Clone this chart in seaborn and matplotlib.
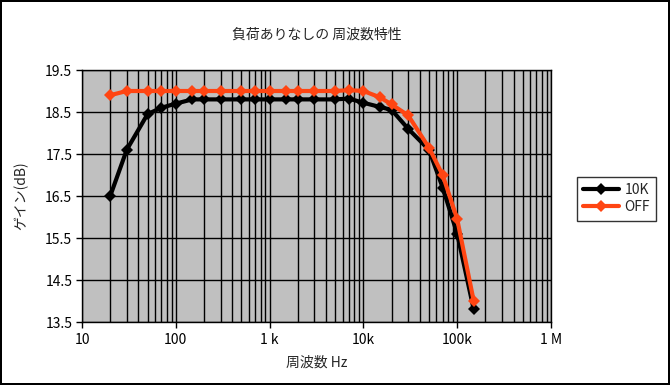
import pandas as pd
import matplotlib.pyplot as plt
import matplotlib.ticker as mticker
import seaborn as sns

# Data
freq = [20, 30, 50, 70, 100, 150, 200, 300, 500, 700, 1000, 1500, 2000, 3000,
        5000, 7000, 10000, 15000, 20000, 30000, 50000, 70000, 100000, 150000]
gain_10k = [16.5, 17.6, 18.45, 18.6, 18.7, 18.8, 18.8, 18.8, 18.8, 18.8, 18.8, 18.8, 18.8, 18.8,
            18.8, 18.82, 18.72, 18.62, 18.55, 18.1, 17.6, 16.7, 15.6, 13.8]
gain_off = [18.9, 19.0, 19.0, 19.0, 19.0, 19.0, 19.0, 19.0, 19.0, 19.0, 19.0, 19.0, 19.0, 19.0,
            19.0, 19.02, 19.0, 18.85, 18.68, 18.42, 17.65, 17.0, 15.95, 14.0]
series = ['10K', 'OFF']
colors = {'10K': '#000000', 'OFF': '#FF4512'}
y_ticks = [13.5, 14.5, 15.5, 16.5, 17.5, 18.5, 19.5]
x_ticks = [10, 100, 1000, 10000, 100000, 1000000]
x_labels = ['10', '100', '1 k', '10k', '100k', '1 M']

df = pd.concat([
    pd.DataFrame({'freq': freq, 'gain': gain_10k, 'series': '10K'}),
    pd.DataFrame({'freq': freq, 'gain': gain_off, 'series': 'OFF'}),
])

sns.set_style('white')
plt.rcParams['font.family'] = ['Noto Sans CJK JP', 'DejaVu Sans']

fig = plt.figure(figsize=(6.7, 3.85), dpi=100, edgecolor='black', linewidth=1.5)
ax = fig.add_axes([82 / 670, 1 - 322 / 385, (551 - 82) / 670, (322 - 70) / 385])
ax.set_facecolor('#C0C0C0')

sns.lineplot(data=df, x='freq', y='gain', hue='series', hue_order=series,
             palette=colors, marker='D', markersize=6.5, markeredgewidth=0,
             linewidth=3, ax=ax, zorder=3)

ax.set_xscale('log')
ax.set_xlim(10, 1e6)
ax.set_ylim(13.5, 19.5)
ax.set_xticks(x_ticks)
ax.set_xticklabels(x_labels)
ax.xaxis.set_minor_locator(mticker.LogLocator(base=10, subs=range(2, 10)))
ax.xaxis.set_minor_formatter(mticker.NullFormatter())
ax.set_yticks(y_ticks)
ax.set_yticklabels([f'{v:.1f}' for v in y_ticks])

ax.grid(True, which='major', axis='both', color='black', linewidth=1)
ax.grid(True, which='minor', axis='x', color='black', linewidth=1)
ax.set_axisbelow(True)
for s in ax.spines.values():
    s.set_color('black')
    s.set_linewidth(1)
ax.tick_params(axis='both', which='major', direction='out', length=4, width=1,
               colors='black', labelsize=10, pad=3)
ax.tick_params(axis='x', which='minor', direction='out', length=4, width=1, colors='black')
ax.tick_params(left=True, bottom=True)
ax.tick_params(axis='x', pad=4)

ax.set_xlabel('周波数 Hz', fontsize=10, labelpad=6)
ax.set_ylabel('ゲイン(dB)', fontsize=10, labelpad=12)
fig.text(0.5 * (82 + 551) / 670, 1 - 35 / 385, '負荷ありなしの 周波数特性',
         ha='center', va='center', fontsize=10)

leg = ax.legend(loc='center left', bbox_to_anchor=(1.04, 0.49), frameon=True,
                fontsize=10, handlelength=2.6, handletextpad=0.4, borderpad=0.45,
                labelspacing=0.25, fancybox=False)
leg.get_frame().set_edgecolor('black')
leg.get_frame().set_linewidth(1)

fig.savefig('out.png', dpi=100)
plt.close()
